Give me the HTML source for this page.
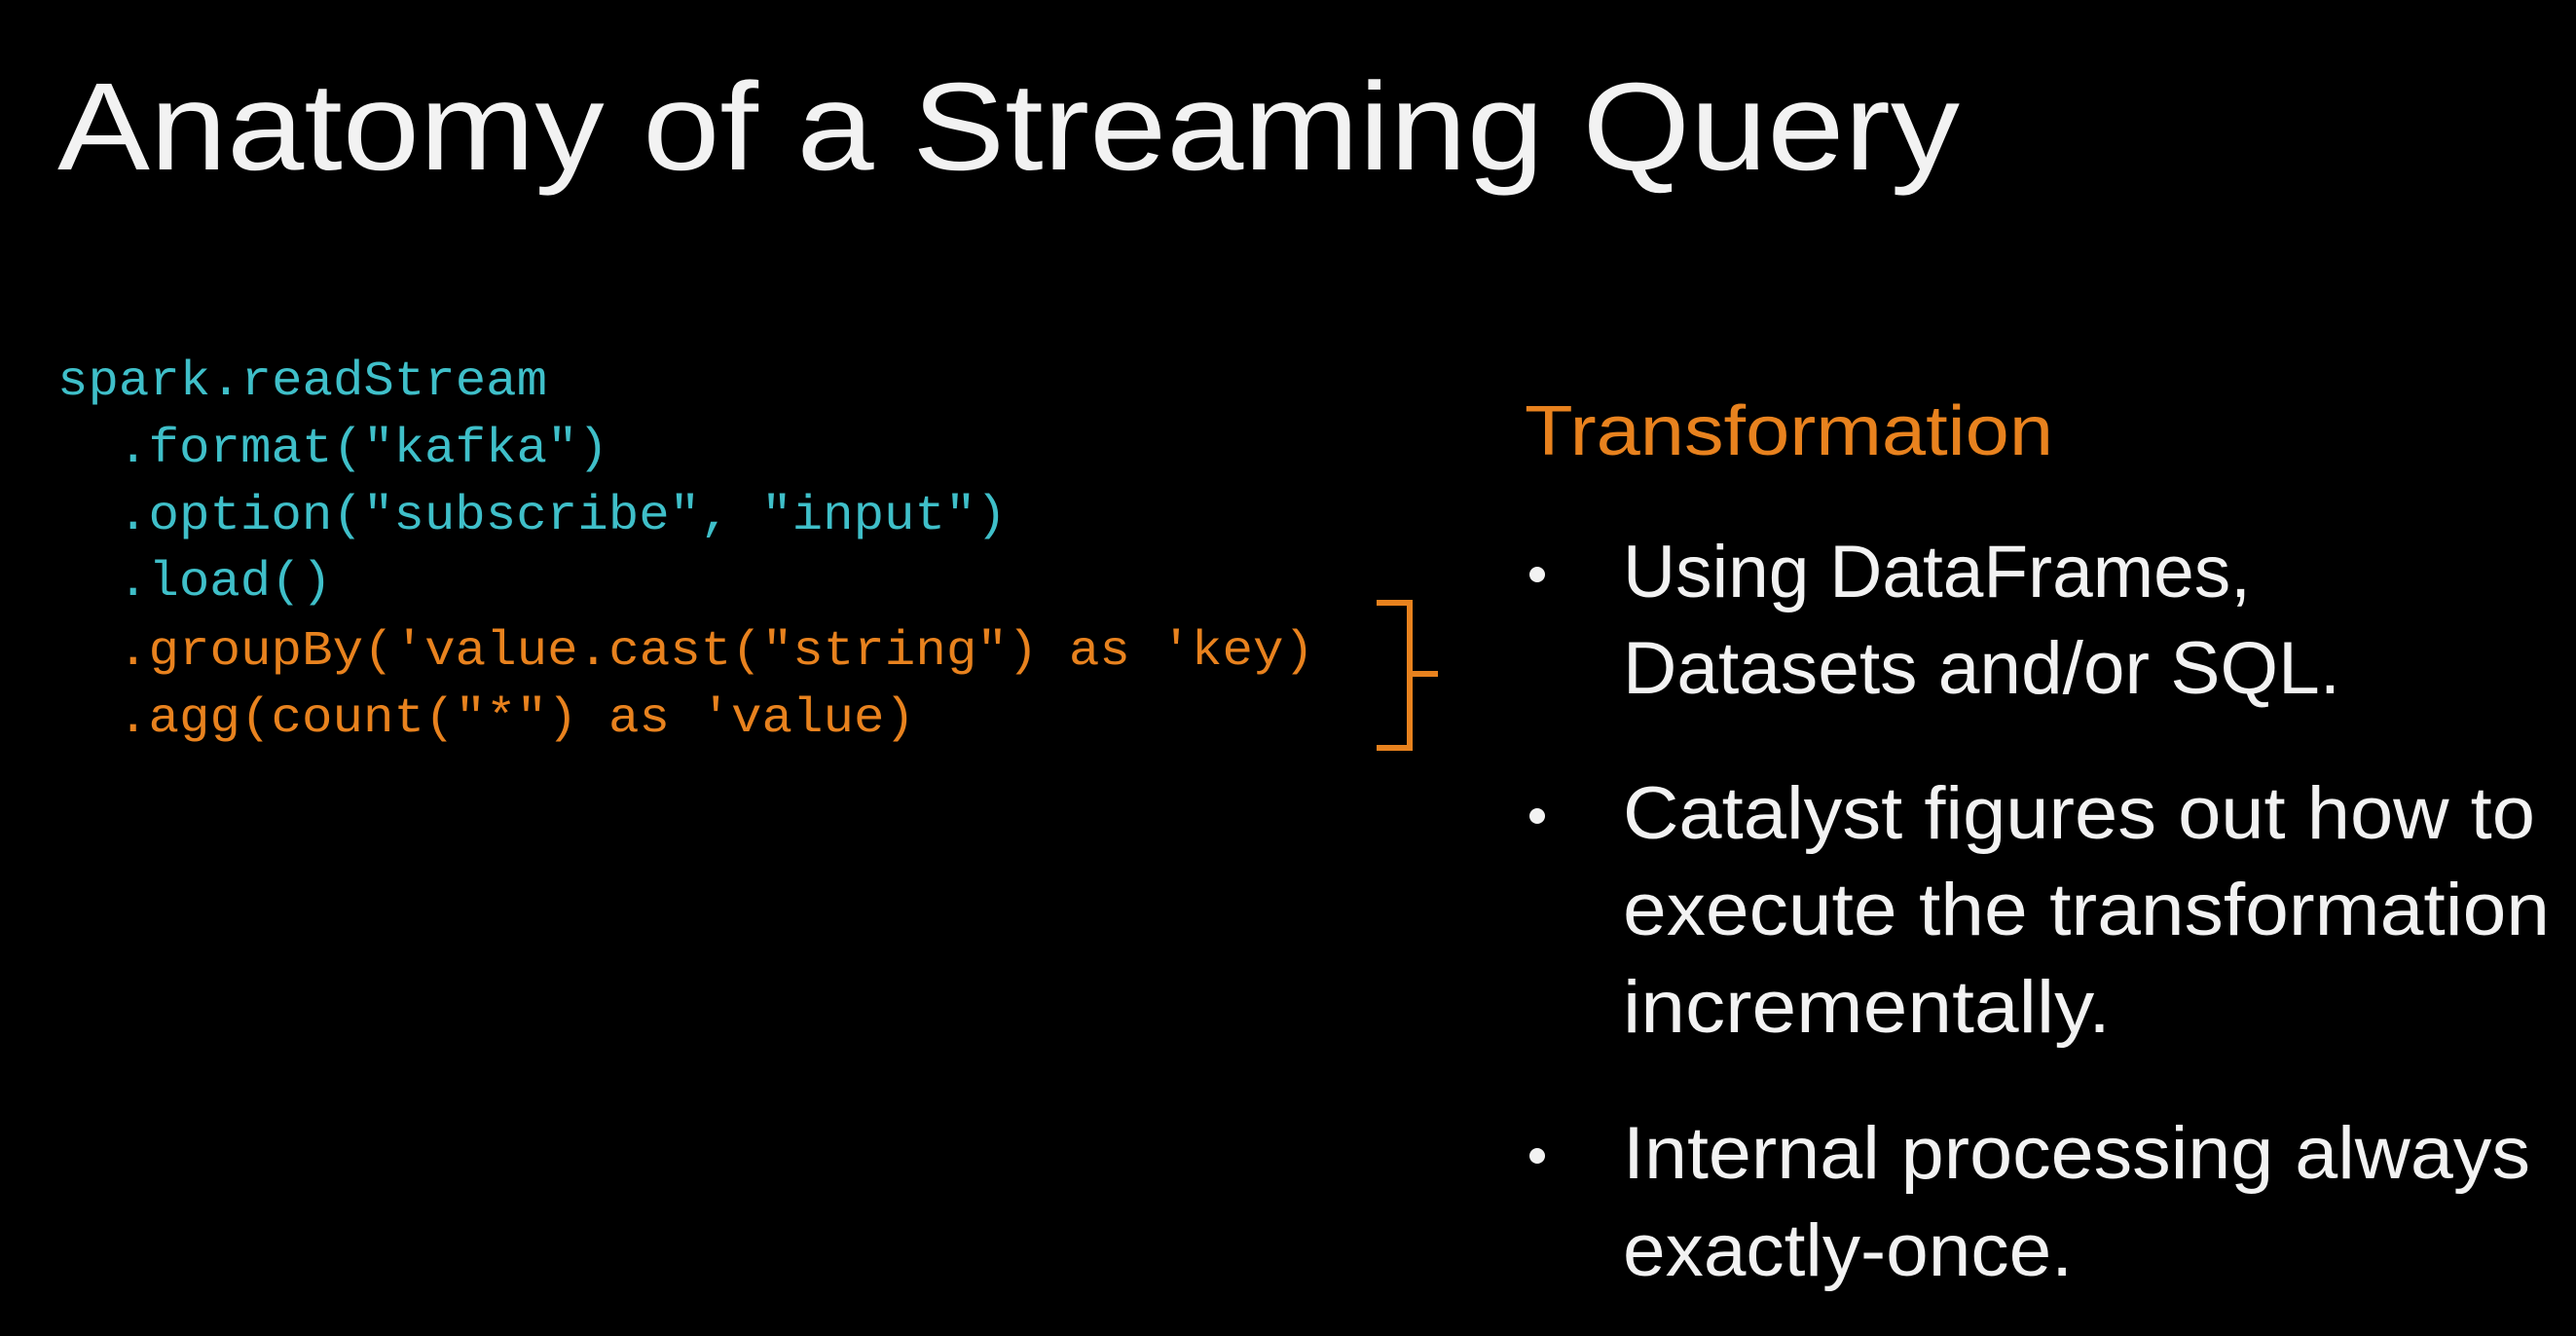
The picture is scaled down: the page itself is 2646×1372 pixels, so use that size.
<!DOCTYPE html>
<html><head><meta charset="utf-8"><style>
html,body{margin:0;padding:0;background:#000;}
svg{display:block}
</style></head><body>
<svg width="2646" height="1372" viewBox="0 0 2646 1372" xmlns="http://www.w3.org/2000/svg">
<rect width="2646" height="1372" fill="#000"/>
<text x="59" y="174" font-family="Liberation Sans, sans-serif" font-size="128" fill="#f2f2f2" textLength="1954" lengthAdjust="spacingAndGlyphs">Anatomy of a Streaming Query</text>
<g font-family="Liberation Mono, monospace" font-size="50">
<text x="59" y="405" fill="#3fbfc9" textLength="503" lengthAdjust="spacingAndGlyphs">spark.readStream</text>
<text x="121" y="474" fill="#3fbfc9" textLength="504" lengthAdjust="spacingAndGlyphs">.format("kafka")</text>
<text x="121" y="543" fill="#3fbfc9" textLength="913" lengthAdjust="spacingAndGlyphs">.option("subscribe", "input")</text>
<text x="121" y="611" fill="#3fbfc9" textLength="220" lengthAdjust="spacingAndGlyphs">.load()</text>
<text x="121" y="682" fill="#e8821e" textLength="1229" lengthAdjust="spacingAndGlyphs">.groupBy('value.cast("string") as 'key)</text>
<text x="121" y="751" fill="#e8821e" textLength="819" lengthAdjust="spacingAndGlyphs">.agg(count("*") as 'value)</text>
</g>
<path d="M1414 619 H1448 V768 H1414 M1448 692 H1477" fill="none" stroke="#e8821e" stroke-width="6"/>
<text x="1566" y="467" font-family="Liberation Sans, sans-serif" font-size="72" fill="#e8821e" textLength="543" lengthAdjust="spacingAndGlyphs">Transformation</text>
<g font-family="Liberation Sans, sans-serif" font-size="76" fill="#f2f2f2">
<circle cx="1579" cy="590" r="8"/>
<text x="1667" y="613" textLength="645" lengthAdjust="spacingAndGlyphs">Using DataFrames,</text>
<text x="1667" y="712" textLength="737" lengthAdjust="spacingAndGlyphs">Datasets and/or SQL.</text>
<circle cx="1579" cy="838" r="8"/>
<text x="1667" y="861" textLength="937" lengthAdjust="spacingAndGlyphs">Catalyst figures out how to</text>
<text x="1667" y="960" textLength="952" lengthAdjust="spacingAndGlyphs">execute the transformation</text>
<text x="1667" y="1060" textLength="501" lengthAdjust="spacingAndGlyphs">incrementally.</text>
<circle cx="1579" cy="1187" r="8"/>
<text x="1667" y="1210" textLength="932" lengthAdjust="spacingAndGlyphs">Internal processing always</text>
<text x="1667" y="1310" textLength="462" lengthAdjust="spacingAndGlyphs">exactly-once.</text>
</g>
</svg>
</body></html>
